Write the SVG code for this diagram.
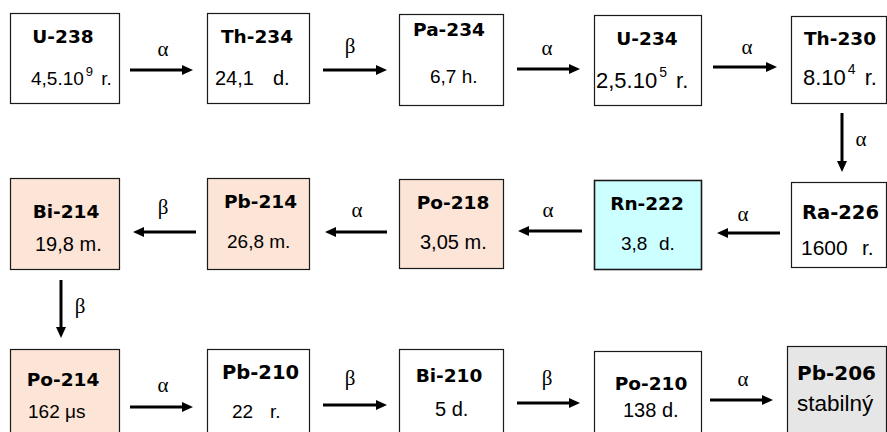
<svg xmlns="http://www.w3.org/2000/svg" width="887" height="432" viewBox="0 0 887 432">
<defs>
<style>
.box{stroke:#1a1a1a;stroke-width:1.2}
.w{fill:#ffffff}
.p{fill:#fce4d6}
.c{fill:#ccffff}
.g{fill:#e6e6e6}
.t{font-family:"DejaVu Sans",Verdana,sans-serif;font-weight:bold;font-size:18.5px;fill:#000}
.v{font-family:"Liberation Sans",Arial,sans-serif;font-size:19px;fill:#000}
.s{font-size:13px}
.l{font-family:"Liberation Serif","Times New Roman",serif;font-size:21px;fill:#000;text-anchor:middle}
.a{stroke:#000;stroke-width:3;fill:none;marker-end:url(#ah)}
</style>
<marker id="ah" markerUnits="userSpaceOnUse" markerWidth="11" markerHeight="10" refX="1" refY="5" orient="auto">
<path d="M0,0 L11,5 L0,10 z" fill="#000"/>
</marker>
</defs>
<rect width="887" height="432" fill="#fff"/>

<g id="u238">
<rect class="box w" x="10.5" y="13.5" width="109" height="90"/>
<text class="t" x="63" y="43" text-anchor="middle">U-238</text>
<text class="v" x="31" y="85">4,5.10<tspan class="s" dx="2" dy="-9">9</tspan><tspan dx="3" dy="9"> r.</tspan></text>
</g>
<g id="th234">
<rect class="box w" x="207.5" y="13.5" width="102" height="90"/>
<text class="t" x="257" y="43" text-anchor="middle">Th-234</text>
<text class="v" x="215" y="85" style="font-size:20px">24,1</text><text class="v" x="273" y="85" style="font-size:20px">d.</text>
</g>
<g id="pa234">
<rect class="box w" x="399.5" y="14.5" width="104" height="91"/>
<text class="t" x="449" y="36" text-anchor="middle">Pa-234</text>
<text class="v" x="430" y="83">6,7 h.</text>
</g>
<g id="u234">
<rect class="box w" x="594.5" y="15.5" width="107" height="90"/>
<text class="t" x="647" y="45" text-anchor="middle">U-234</text>
<text class="v" x="596" y="88" style="font-size:22px">2,5.10<tspan class="s" dx="2" dy="-11" style="font-size:14px">5</tspan><tspan dx="3" dy="11"> r.</tspan></text>
</g>
<g id="th230">
<rect class="box w" x="791.5" y="16.5" width="95" height="87"/>
<text class="t" x="804" y="45">Th-230</text>
<text class="v" x="803" y="85" style="font-size:22px">8.10<tspan class="s" dx="2" dy="-11" style="font-size:14px">4</tspan><tspan dx="3" dy="11"> r.</tspan></text>
</g>

<g id="bi214">
<rect class="box p" x="10.5" y="178.5" width="109" height="91"/>
<text class="t" x="66" y="218" text-anchor="middle">Bi-214</text>
<text class="v" x="35" y="251" style="font-size:20px">19,8 m.</text>
</g>
<g id="pb214">
<rect class="box p" x="207.5" y="178.5" width="102" height="91"/>
<text class="t" x="224" y="208">Pb-214</text>
<text class="v" x="227" y="248">26,8 m.</text>
</g>
<g id="po218">
<rect class="box p" x="399.5" y="179.5" width="104" height="89"/>
<text class="t" x="453" y="209" text-anchor="middle">Po-218</text>
<text class="v" x="420" y="249" style="font-size:20px">3,05 m.</text>
</g>
<g id="rn222">
<rect class="box c" x="594.5" y="180.5" width="107" height="89" style="stroke-width:1.6"/>
<text class="t" x="647" y="210" text-anchor="middle">Rn-222</text>
<text class="v" x="621" y="250">3,8</text><text class="v" x="659" y="250">d.</text>
</g>
<g id="ra226">
<rect class="box w" x="791.5" y="182.5" width="95" height="85"/>
<text class="t" x="802" y="219" style="font-size:19.5px">Ra-226</text>
<text class="v" x="801" y="255" style="font-size:21px">1600</text><text class="v" x="862" y="255" style="font-size:21px">r.</text>
</g>

<g id="po214">
<rect class="box p" x="10.5" y="349.5" width="109" height="92"/>
<text class="t" x="63" y="386" text-anchor="middle">Po-214</text>
<text class="v" x="28" y="418">162 μs</text>
</g>
<g id="pb210">
<rect class="box w" x="207.5" y="349.5" width="102" height="92"/>
<text class="t" x="222" y="379" style="font-size:19.5px">Pb-210</text>
<text class="v" x="232" y="418">22</text><text class="v" x="270" y="418">r.</text>
</g>
<g id="bi210">
<rect class="box w" x="399.5" y="349.5" width="104" height="92"/>
<text class="t" x="449" y="382" text-anchor="middle">Bi-210</text>
<text class="v" x="435" y="416" style="font-size:20px">5 d.</text>
</g>
<g id="po210">
<rect class="box w" x="594.5" y="351.5" width="107" height="92"/>
<text class="t" x="651" y="390" text-anchor="middle">Po-210</text>
<text class="v" x="623" y="417" style="font-size:20px">138 d.</text>
</g>
<g id="pb206">
<rect class="box g" x="787.5" y="346.5" width="99" height="95"/>
<text class="t" x="797" y="380" style="font-size:20px">Pb-206</text>
<text class="v" x="797" y="411" style="font-size:22.5px">stabilný</text>
</g>

<g id="connectors">
<line class="a" x1="130" y1="70" x2="183" y2="70"/>
<line class="a" x1="323" y1="70" x2="377" y2="70"/>
<line class="a" x1="517" y1="69" x2="570" y2="69"/>
<line class="a" x1="713" y1="67" x2="767" y2="67"/>
<line class="a" x1="842" y1="113" x2="842" y2="162"/>
<line class="a" x1="780" y1="233" x2="727" y2="233"/>
<line class="a" x1="582" y1="231" x2="528" y2="231"/>
<line class="a" x1="387" y1="232" x2="335" y2="232"/>
<line class="a" x1="196" y1="232" x2="143" y2="232"/>
<line class="a" x1="61" y1="280" x2="61" y2="328"/>
<line class="a" x1="130" y1="407" x2="183" y2="407"/>
<line class="a" x1="323" y1="405" x2="377" y2="405"/>
<line class="a" x1="517" y1="403" x2="570" y2="403"/>
<line class="a" x1="710" y1="400" x2="763" y2="400"/>
<text class="l" x="163" y="56">α</text>
<text class="l" x="350" y="53">β</text>
<text class="l" x="547" y="55">α</text>
<text class="l" x="747" y="54">α</text>
<text class="l" x="861" y="146">α</text>
<text class="l" x="743" y="221">α</text>
<text class="l" x="548" y="217">α</text>
<text class="l" x="357" y="217">α</text>
<text class="l" x="163" y="214">β</text>
<text class="l" x="80" y="313">β</text>
<text class="l" x="163" y="392">α</text>
<text class="l" x="350" y="385">β</text>
<text class="l" x="547" y="385">β</text>
<text class="l" x="743" y="386">α</text>
</g>
</svg>
